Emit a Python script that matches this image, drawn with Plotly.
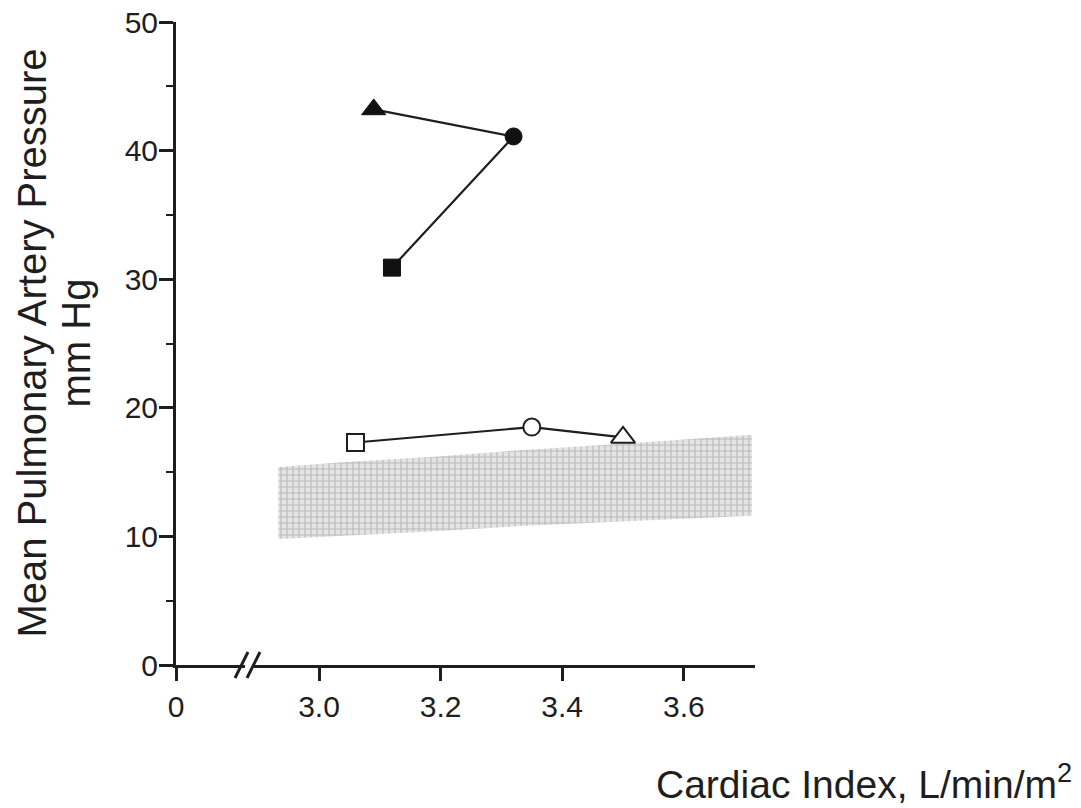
import plotly.graph_objects as go

# ---- data ----
filled_x = [3.09, 3.32, 3.12]
filled_y = [43.2, 41.1, 30.9]
filled_symbols = ["triangle-up", "circle", "square"]

open_x = [3.06, 3.35, 3.50]
open_y = [17.3, 18.5, 17.7]
open_symbols = ["square", "circle", "triangle-up"]

band_x = [2.933, 3.05, 3.19, 3.33, 3.53, 3.712]
band_upper = [15.4, 15.8, 16.2, 16.7, 17.3, 17.9]
band_lower = [9.8, 10.1, 10.4, 10.8, 11.2, 11.6]

y_ticks = [0, 10, 20, 30, 40, 50]
x_ticks = [3.0, 3.2, 3.4, 3.6]
x_ticklabels = ["3.0", "3.2", "3.4", "3.6"]

W, H = 1081, 808
# target screen positions of plot area
S_LEFT, S_RIGHT, S_TOP, S_BOTTOM = 176, 755, 22, 665
ML = S_LEFT
MT = S_TOP
MR = W - S_RIGHT
MB = H - S_BOTTOM
PW = W - ML - MR
PH = H - MT - MB

def px_x(p):  # screen px -> paper
    return (p - S_LEFT) / PW

def px_y(p):
    return (S_BOTTOM - p) / PH

FONT = "Liberation Sans, Arial, sans-serif"
INK = "#1e1e1e"

fig = go.Figure()

# shaded normal band
poly_x = band_x + band_x[::-1]
poly_y = band_upper + band_lower[::-1]
fig.add_trace(go.Scatter(
    x=poly_x, y=poly_y, xaxis="x2", yaxis="y",
    mode="lines", line=dict(width=0), fill="toself",
    fillcolor="rgba(255,255,255,0)",
    fillpattern=dict(shape="+", fgcolor="#909090", bgcolor="#e4e4e4",
                     size=6, solidity=0.35),
    hoverinfo="skip", showlegend=False,
))

fig.add_trace(go.Scatter(
    x=open_x, y=open_y, xaxis="x2", yaxis="y",
    mode="lines+markers",
    line=dict(color=INK, width=2.2),
    marker=dict(symbol=open_symbols, size=[17, 17, 21], color="white",
                opacity=1, line=dict(color=INK, width=2)),
    showlegend=False,
))

fig.add_trace(go.Scatter(
    x=filled_x, y=filled_y, xaxis="x2", yaxis="y",
    mode="lines+markers",
    line=dict(color=INK, width=2.2),
    marker=dict(symbol=filled_symbols, size=[21, 17, 17], color="#111111",
                opacity=1, line=dict(color="#111111", width=1)),
    showlegend=False,
))

# left piece of the broken x axis (holds only the 0 tick)
fig.add_trace(go.Scatter(x=[0], y=[None], xaxis="x", yaxis="y",
                         mode="markers", showlegend=False, hoverinfo="skip"))

data_per_px = 0.2 / 121.6
x_left_end = px_x(245)
x_right_start = px_x(254)
x2_lo = 3.0 - (319 - 254) * data_per_px
x2_hi = 3.0 + (S_RIGHT - 319) * data_per_px
x1_hi = (245 - S_LEFT) * data_per_px

tickfont = dict(family=FONT, size=30, color=INK)

fig.update_layout(
    width=W, height=H,
    margin=dict(l=ML, r=MR, t=MT, b=MB, pad=0, autoexpand=False),
    paper_bgcolor="white", plot_bgcolor="white",
    xaxis=dict(domain=[0, x_left_end], range=[0, x1_hi],
               tickvals=[0], ticktext=["0"], ticks="outside", ticklen=13,
               tickwidth=2.5, tickcolor=INK, showline=True, linewidth=3,
               linecolor=INK, showgrid=False, zeroline=False,
               tickfont=tickfont, anchor="y", automargin=False,
               ticklabeloverflow="allow"),
    xaxis2=dict(domain=[x_right_start, 1], range=[x2_lo, x2_hi],
                tickvals=x_ticks, ticktext=x_ticklabels, ticks="outside",
                ticklen=13, tickwidth=2.5, tickcolor=INK, showline=True,
                linewidth=3, linecolor=INK, showgrid=False, zeroline=False,
                tickfont=tickfont, anchor="y", automargin=False,
                ticklabeloverflow="allow"),
    yaxis=dict(range=[0, 50], tickvals=y_ticks, ticks="outside", ticklen=14,
               tickwidth=2.5, tickcolor=INK, showline=True, linewidth=3,
               linecolor=INK, showgrid=False, zeroline=False,
               tickfont=tickfont, anchor="x", automargin=False,
               ticklabeloverflow="allow", ticklabelstandoff=-5,
               minor=dict(dtick=5, ticks="outside", ticklen=7,
                          tickwidth=2, tickcolor=INK, showgrid=False)),
    annotations=[
        dict(text="Mean Pulmonary Artery Pressure", xref="paper", yref="paper",
             x=px_x(31), y=0.5, xanchor="center", yanchor="middle",
             textangle=-90, showarrow=False,
             font=dict(family=FONT, size=40, color=INK)),
        dict(text="mm Hg", xref="paper", yref="paper",
             x=px_x(75), y=0.5, xanchor="center", yanchor="middle",
             textangle=-90, showarrow=False,
             font=dict(family=FONT, size=40, color=INK)),
        dict(text="Cardiac Index, L/min/m<sup>2</sup>", xref="paper",
             yref="paper", x=px_x(1074), y=px_y(781), xanchor="right",
             yanchor="middle", showarrow=False,
             font=dict(family=FONT, size=39, color=INK)),
    ],
    shapes=[
        dict(type="line", xref="paper", yref="paper",
             x0=px_x(235), y0=px_y(678), x1=px_x(248), y1=px_y(652),
             line=dict(color=INK, width=3)),
        dict(type="line", xref="paper", yref="paper",
             x0=px_x(247), y0=px_y(678), x1=px_x(260), y1=px_y(652),
             line=dict(color=INK, width=3)),
    ],
)

fig.write_html(
    "out.html",
    config={"displayModeBar": False},
    post_script="document.body.style.margin='0';"
                "document.documentElement.style.overflow='hidden';",
)
